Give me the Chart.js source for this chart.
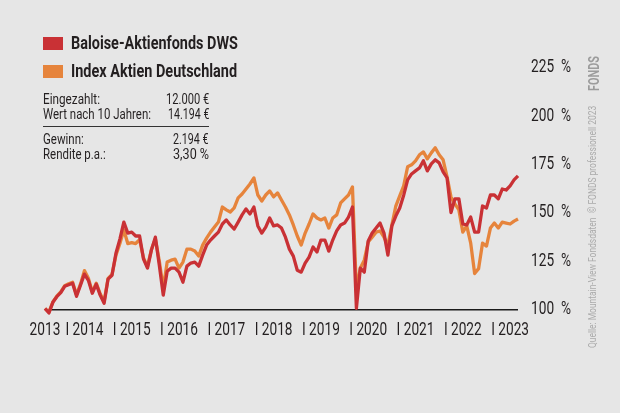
<!doctype html>
<html lang="de">
<head>
  <meta charset="UTF-8">
  <title>Baloise-Aktienfonds DWS</title>
  <script src="https://cdn.jsdelivr.net/npm/chart.js@4.4.0/dist/chart.umd.min.js"></script>
  <style>
    body { margin: 0; background: #e6e6e6; }
    #wrap { position: relative; width: 620px; height: 413px; background: #e6e6e6; overflow: hidden;
      font-family: Roboto, "Liberation Sans", sans-serif; color: #231f20; }
    #canvas { position: absolute; left: 0; top: 0; }
    .box { position: absolute; left: 43px; width: 20px; height: 13px; }
    .t { position: absolute; white-space: nowrap; transform-origin: 0 0; }
    .leg { left: 71px; font-weight: bold; font-size: 19px; line-height: 20px; }
    .s { font-size: 14px; line-height: 15px; }
    .r { transform-origin: 100% 0; }
    #rule { position: absolute; left: 43px; top: 126px; width: 166px; height: 1px; background: #333; }
  </style>
</head>
<body>
  <div id="wrap">
    <canvas id="canvas" width="620" height="413"></canvas>
    <div class="box" style="top:37px;background:#c93135"></div>
    <div class="t leg" style="top:33px" data-w="167">Baloise-Aktienfonds DWS</div>
    <div class="box" style="top:65px;background:#e6843c"></div>
    <div class="t leg" style="top:61px" data-w="166">Index Aktien Deutschland</div>

    <div class="t s" style="left:43px;top:92px" data-w="57">Eingezahlt:</div>
    <div class="t s r" style="right:411px;top:92px" data-w="43">12.000 €</div>
    <div class="t s" style="left:43px;top:107px" data-w="108">Wert nach 10 Jahren:</div>
    <div class="t s r" style="right:411px;top:107px" data-w="41">14.194 €</div>
    <div id="rule"></div>
    <div class="t s" style="left:43px;top:132px" data-w="41">Gewinn:</div>
    <div class="t s r" style="right:411px;top:132px" data-w="36">2.194 €</div>
    <div class="t s" style="left:43px;top:147px" data-w="63">Rendite p.a.:</div>
    <div class="t s r" style="right:411px;top:147px" data-w="36">3,30 %</div>

    <div class="t" id="src" style="left:588px;top:348px;font-size:11px;line-height:10px;color:#ababab" data-w="242" data-rot="1">Quelle: Mountain-View Fondsdaten &nbsp;© FONDS professionell 2023</div>
    <div class="t" id="logo" style="left:589px;top:91px;font-size:14px;line-height:11px;font-weight:bold;color:#9c9c9c" data-w="35" data-rot="1">FONDS</div>
  </div>
  <script>
    // Monatswerte Juni 2013 .. Juni 2023, Start = 100 %
    var fund = [
      100.4, 98.1, 103.6, 106.5, 108.6, 111.9, 112.7, 113.5, 106.7, 112.4,
      118.2, 115.0, 108.3, 113.0, 107.3, 103.1, 115.6, 117.6, 129.0, 136.3,
      145.1, 139.4, 139.9, 137.9, 137.9, 125.9, 121.3, 130.6, 137.3, 122.8,
      107.3, 119.7, 121.3, 121.3, 119.2, 114.0, 122.3, 123.9, 124.4, 122.3,
      128.0, 133.2, 135.8, 137.9, 139.9, 144.1, 146.2, 143.6, 141.5, 145.1,
      148.8, 151.9, 149.3, 152.9, 143.1, 139.4, 142.5, 147.2, 143.1, 143.6,
      142.0, 137.3, 131.1, 127.5, 120.2, 119.2, 123.9, 127.0, 132.2, 129.6,
      135.8, 135.8, 130.1, 135.8, 140.5, 143.6, 144.6, 147.7, 152.9, 100.5,
      121.3, 119.2, 135.3, 139.4, 142.0, 144.6, 139.4, 128.0, 143.1, 148.2,
      152.4, 159.0, 166.9, 170.0, 171.6, 173.1, 176.8, 171.6, 175.2, 177.3,
      175.7, 171.1, 168.0, 150.0, 157.1, 157.1, 144.1, 143.6, 147.7, 139.9,
      139.9, 153.4, 152.4, 159.1, 159.1, 157.1, 162.2, 161.7, 163.8, 166.9,
      169.0
    ];
    var index = [
      100.4, 98.5, 103.8, 106.8, 109.0, 112.2, 113.2, 114.0, 107.5, 113.0,
      120.0, 116.0, 109.0, 113.5, 108.0, 104.0, 116.0, 118.0, 128.0, 134.0,
      141.0, 134.0, 134.5, 134.0, 136.0, 126.5, 122.0, 131.0, 136.5, 125.0,
      110.9, 124.4, 125.4, 125.9, 121.3, 124.4, 131.1, 131.1, 130.1, 127.5,
      133.2, 136.8, 139.9, 142.5, 145.1, 152.9, 151.4, 150.3, 152.4, 157.6,
      159.6, 162.2, 164.8, 167.9, 159.1, 156.0, 159.1, 161.2, 158.1, 160.2,
      156.5, 152.9, 148.8, 143.6, 137.9, 133.2, 139.4, 144.1, 149.3, 147.2,
      146.2, 147.2, 142.0, 147.2, 148.8, 155.0, 157.1, 159.1, 163.3, 109.9,
      121.3, 125.4, 134.8, 137.3, 139.9, 140.5, 137.3, 133.2, 143.6, 153.4,
      158.6, 163.8, 173.7, 174.7, 176.8, 179.9, 181.4, 177.8, 180.9, 183.5,
      179.9, 177.3, 168.5, 158.1, 154.5, 151.4, 139.9, 143.1, 134.2, 118.5,
      121.0, 134.2, 132.7, 142.0, 144.6, 142.0, 145.1, 144.6, 144.1, 145.6,
      146.7
    ];
    var yTicks = [100, 125, 150, 175, 200, 225];
    var yearTicks = { 0: '2013', 10: 'I 2014', 22: 'I 2015', 34: 'I 2016', 46: 'I 2017', 58: 'I 2018',
      70: 'I 2019', 82: 'I 2020', 94: 'I 2021', 106: 'I 2022', 118: 'I 2023' };

    var months = [];
    for (var i = 0; i < fund.length; i++) {
      var m = 5 + i;
      months.push((2013 + Math.floor(m / 12)) + '-' + String(m % 12 + 1).padStart(2, '0'));
    }

    // no condensed face installed: squeeze the HTML texts to their widths
    document.querySelectorAll('[data-w]').forEach(el => {
      var k = +el.dataset.w / el.scrollWidth;
      el.style.transform = (el.dataset.rot ? 'rotate(-90deg) ' : '') + 'scaleX(' + k + ')';
    });

    // same for the axis labels on the canvas (fillText maxWidth)
    var condense = {
      id: 'condense',
      beforeDraw(chart) {
        var ctx = chart.ctx;
        if (ctx._condensed) return;
        var fill = ctx.fillText;
        ctx.fillText = function (t, x, y, mw) {
          var w = this.measureText(t).width * 0.72;
          return fill.call(this, t, x, y, mw === undefined ? w : Math.min(mw, w));
        };
        ctx._condensed = true;
      }
    };

    var tickFont = { family: 'Roboto', size: 19 };

    new Chart(document.getElementById('canvas'), {
      type: 'line',
      data: {
        labels: months,
        datasets: [
          { label: 'Baloise-Aktienfonds DWS', data: fund, borderColor: '#c93135', borderWidth: 3.3 },
          { label: 'Index Aktien Deutschland', data: index, borderColor: '#e6843c', borderWidth: 3.3 }
        ]
      },
      options: {
        responsive: false,
        animation: false,
        layout: { padding: { left: 45, top: 56, right: 0, bottom: 76 } },
        elements: { point: { radius: 0 }, line: { tension: 0, borderJoinStyle: 'round' } },
        plugins: { legend: { display: false }, tooltip: { enabled: false } },
        scales: {
          x: {
            grid: { display: false },
            border: { display: false },
            ticks: {
              autoSkip: false, maxRotation: 0, minRotation: 0, padding: -6,
              color: '#231f20', font: tickFont,
              callback: (v, i) => yearTicks[i] || ''
            },
            afterFit: a => { a.height = 20; }
          },
          y: {
            position: 'right',
            min: 96,
            max: 231,
            afterBuildTicks: a => { a.ticks = yTicks.map(v => ({ value: v })); },
            grid: {
              drawTicks: false,
              lineWidth: 1.5,
              color: c => (c.tick && c.tick.value === 100) ? '#1a1a1a' : 'rgba(0,0,0,0)'
            },
            border: { display: false },
            ticks: {
              padding: 13, color: '#231f20', font: tickFont,
              callback: v => v + '\u2002%'
            },
            afterFit: a => { a.width = 102; }
          }
        }
      },
      plugins: [condense]
    });
  </script>
</body>
</html>
